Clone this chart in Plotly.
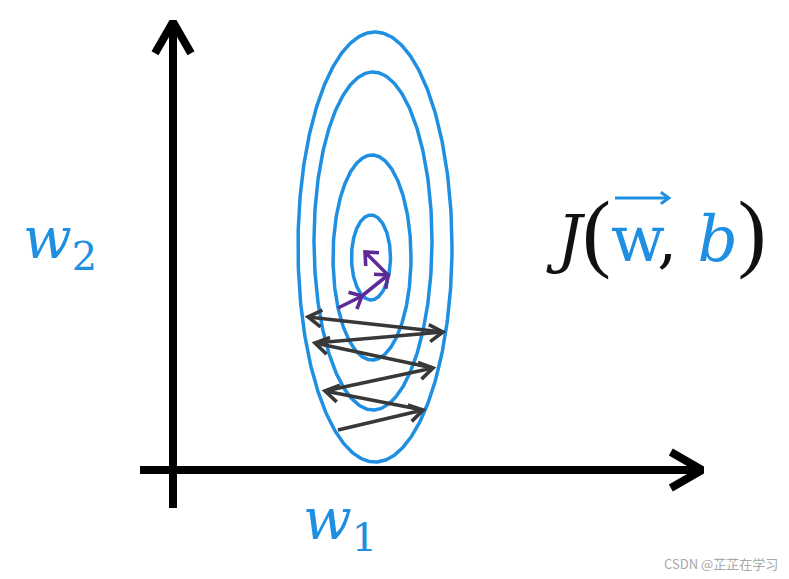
import numpy as np
import plotly.graph_objects as go

# ---------------- data (w1 / w2 units) ----------------
# contour ellipses of the cost J(w, b)
contour_cx = [20.2, 20.0, 19.9, 19.8]
contour_cy = [22.3, 22.9, 21.25, 21.25]
contour_a = [7.7, 5.9, 3.9, 1.95]
contour_b = [21.5, 16.9, 10.25, 4.25]

# zig-zag gradient-descent path (dark grey)
zigzag_w1 = [16.5, 25.0, 15.2, 26.0, 14.2, 27.0, 13.5]
zigzag_w2 = [4.0, 6.0, 7.9, 10.2, 12.7, 13.8, 15.3]

# final steps near the minimum (purple)
fast_w1 = [16.5, 18.9, 21.5, 19.2]
fast_w2 = [16.2, 17.4, 19.5, 21.8]

# drawn axes
axis_w1_span = [-3.3, 52.9]
axis_w2_span = [-3.8, 44.8]

# vector arrow over the w in J(w, b)
vec_arrow_w1 = [44.2, 49.6]
vec_arrow_w2 = [27.2, 27.2]

# view window
x_range = [-17.3, 61.6]
y_range = [-10.9, 47.0]

BLUE = "#1E8FE1"
GREY = "#383838"
PURPLE = "#5E2A96"


def heads(xs, ys, length, ang_deg):
    """chevron arrow heads at every vertex after the first"""
    ang = np.radians(ang_deg)
    hx, hy = [], []
    for i in range(1, len(xs)):
        d = np.arctan2(ys[i] - ys[i - 1], xs[i] - xs[i - 1])
        hx += [xs[i] - length * np.cos(d - ang), xs[i], xs[i] - length * np.cos(d + ang), None]
        hy += [ys[i] - length * np.sin(d - ang), ys[i], ys[i] - length * np.sin(d + ang), None]
    return hx, hy


fig = go.Figure()

# contour ellipses
t = np.linspace(0, 2 * np.pi, 400)
for cx, cy, a, b in zip(contour_cx, contour_cy, contour_a, contour_b):
    fig.add_trace(go.Scatter(x=cx + a * np.cos(t), y=cy + b * np.sin(t), mode="lines",
                             line=dict(color=BLUE, width=3.5), hoverinfo="skip"))

# axes with arrow heads
ax_x = [0, 0]
ax_y = axis_w2_span
fig.add_trace(go.Scatter(x=ax_x, y=ax_y, mode="lines", line=dict(color="black", width=8),
                         hoverinfo="skip"))
hx, hy = heads(ax_x, ax_y, 3.6, 30)
fig.add_trace(go.Scatter(x=hx, y=hy, mode="lines", line=dict(color="black", width=8),
                         hoverinfo="skip"))
bx_x = axis_w1_span
bx_y = [0, 0]
fig.add_trace(go.Scatter(x=bx_x, y=bx_y, mode="lines", line=dict(color="black", width=8),
                         hoverinfo="skip"))
hx, hy = heads(bx_x, bx_y, 3.6, 30)
fig.add_trace(go.Scatter(x=hx, y=hy, mode="lines", line=dict(color="black", width=8),
                         hoverinfo="skip"))

# zig-zag path
fig.add_trace(go.Scatter(x=zigzag_w1, y=zigzag_w2, mode="lines",
                         line=dict(color=GREY, width=3.6), hoverinfo="skip"))
hx, hy = heads(zigzag_w1, zigzag_w2, 1.6, 32)
fig.add_trace(go.Scatter(x=hx, y=hy, mode="lines", line=dict(color=GREY, width=3.6),
                         hoverinfo="skip"))

# purple path
fig.add_trace(go.Scatter(x=fast_w1, y=fast_w2, mode="lines",
                         line=dict(color=PURPLE, width=3.6), hoverinfo="skip"))
hx, hy = heads(fast_w1, fast_w2, 1.4, 42)
fig.add_trace(go.Scatter(x=hx, y=hy, mode="lines", line=dict(color=PURPLE, width=3.6),
                         hoverinfo="skip"))

# vector arrow above w
fig.add_trace(go.Scatter(x=vec_arrow_w1, y=vec_arrow_w2, mode="lines",
                         line=dict(color=BLUE, width=2.8), hoverinfo="skip"))
hx, hy = heads(vec_arrow_w1, vec_arrow_w2, 1.0, 35)
fig.add_trace(go.Scatter(x=hx, y=hy, mode="lines", line=dict(color=BLUE, width=2.8),
                         hoverinfo="skip"))

SERIF = "DejaVu Serif"
PAREN = "font-family:Liberation Serif;font-size:86px"
annotations = [
    dict(x=-11.3, y=22.8, text="<i>w</i><sub>2</sub>", font=dict(family=SERIF, size=57, color=BLUE)),
    dict(x=16.7, y=-5.3, text="<i>w</i><sub>1</sub>", font=dict(family=SERIF, size=57, color=BLUE)),
    dict(x=48.3, y=23.8,
         text="<i>J</i><span style='%s'>(</span>"
              "<span style='color:%s'>w</span>, "
              "<span style='color:%s'><i>b</i></span>"
              "<span style='%s'>)</span>" % (PAREN, BLUE, BLUE, PAREN),
         font=dict(family=SERIF, size=63, color="#111111")),
    dict(x=60.7, y=-9.3, xanchor="right", text="CSDN @芷芷在学习",
         font=dict(family="Noto Sans CJK SC", size=13, color="#A8A8A8")),
]
for a in annotations:
    a.update(xref="x", yref="y", showarrow=False)

fig.update_layout(
    width=789, height=579,
    margin=dict(l=0, r=0, t=0, b=0),
    paper_bgcolor="white", plot_bgcolor="white",
    showlegend=False,
    annotations=annotations,
    xaxis=dict(range=x_range, visible=False, fixedrange=True),
    yaxis=dict(range=y_range, visible=False, fixedrange=True),
)

fig.write_html("out.html", config={"displayModeBar": False},
               post_script="document.body.style.margin='0';document.body.style.overflow='hidden';")
